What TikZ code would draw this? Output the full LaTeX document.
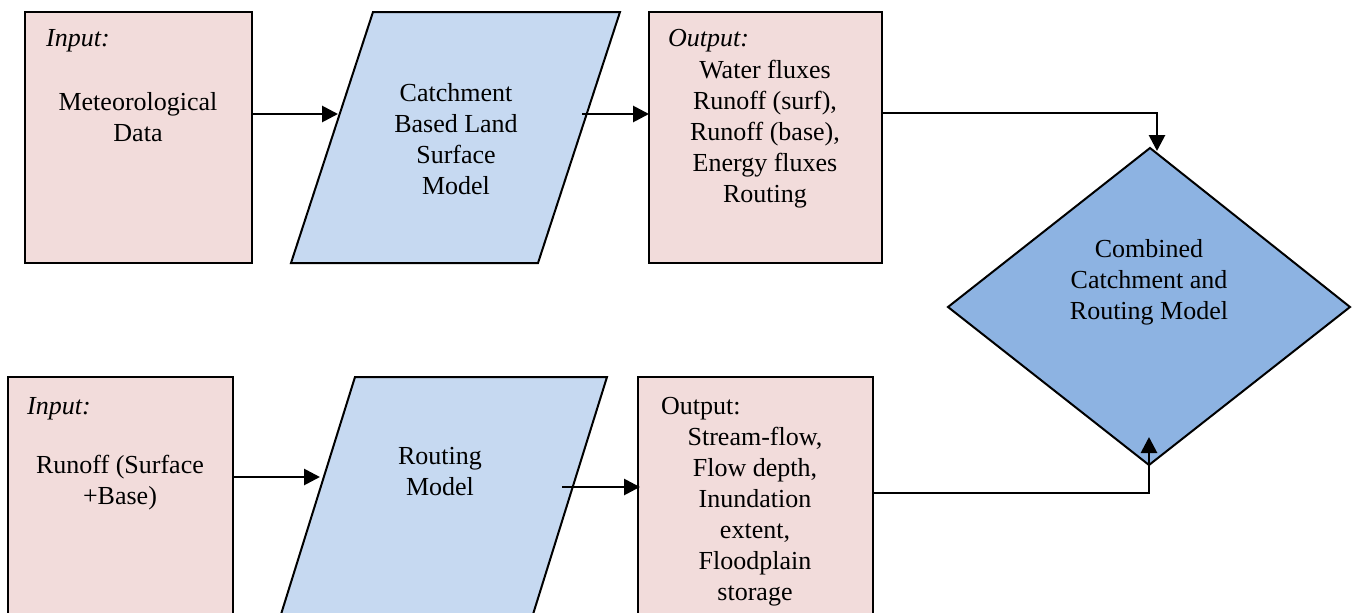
\documentclass[tikz,border=0pt]{standalone}
\usepackage{fontspec}
\setmainfont{Liberation Serif}
\usetikzlibrary{arrows.meta}
\definecolor{boxpink}{HTML}{F2DCDB}
\definecolor{parablue}{HTML}{C6D9F1}
\definecolor{diamblue}{HTML}{8DB3E2}
\begin{document}
\begin{tikzpicture}[x=1pt,y=-1pt,
  shapeline/.style={draw=black,line width=2pt},
  iobox/.style={shapeline,fill=boxpink},
  para/.style={shapeline,fill=parablue},
  txt/.style={font=\fontsize{26}{31}\selectfont,align=center,inner sep=0pt},
  lbl/.style={font=\fontsize{26}{31}\selectfont,anchor=west,inner sep=0pt},
  flow/.style={line width=2.8pt,-{Triangle[length=16pt,width=16pt]}}]
\useasboundingbox (0,0) rectangle (1358,613);

% top row
\path[iobox] (25,12) rectangle (252,263);
\coordinate (in1E) at (252,114);
\node[lbl] (in1lbl) at (46,41) {\itshape Input:};
\node[txt] (in1) at (138,117) {Meteorological\\Data};

\path[para] (373,12) -- (620,12) -- (538,263) -- (291,263) -- cycle;
\coordinate (lsmW) at (338,114);
\coordinate (lsmE) at (582,114);
\node[txt] (lsm) at (456,139) {Catchment\\Based Land\\Surface\\Model};

\path[iobox] (649,12) rectangle (882,263);
\coordinate (out1W) at (649,114);
\coordinate (out1E) at (882,113);
\node[lbl] (out1lbl) at (668,41) {\itshape Output:};
\node[txt] (out1) at (765,134) {Water fluxes\\Runoff (surf),\\Runoff (base),\\Energy fluxes\\Routing};

% combined model
\path[shapeline,fill=diamblue] (1150,148) -- (1350,307) -- (1149,465) -- (948,307) -- cycle;
\coordinate (combN) at (1157,151);
\coordinate (combS) at (1149,437);
\node[txt] (comb) at (1149,282) {Combined\\Catchment and\\Routing Model};

% bottom row
\path[iobox] (8,377) rectangle (233,640);
\coordinate (in2E) at (233,477);
\node[lbl] (in2lbl) at (27,409) {\itshape Input:};
\node[txt] (in2) at (120,483) {Runoff (Surface\\+Base)};

\path[para] (355,377) -- (607,377) -- (525,640) -- (273,640) -- cycle;
\coordinate (routW) at (320,477);
\coordinate (routE) at (562,487);
\node[txt] (rout) at (440,472) {Routing\\Model};

\path[iobox] (638,377) rectangle (873,640);
\coordinate (out2W) at (640,487);
\coordinate (out2E) at (873,493);
\node[lbl] (out2lbl) at (661,409) {Output:};
\node[txt] (out2) at (755,517) {Stream-flow,\\Flow depth,\\Inundation\\extent,\\Floodplain\\storage};

% connectors
\draw[flow] (in1E) -- (lsmW);
\draw[flow] (lsmE) -- (out1W);
\draw[flow] (out1E) -| (combN);
\draw[flow] (in2E) -- (routW);
\draw[flow] (routE) -- (out2W);
\draw[flow] (out2E) -| (combS);
\end{tikzpicture}
\end{document}
